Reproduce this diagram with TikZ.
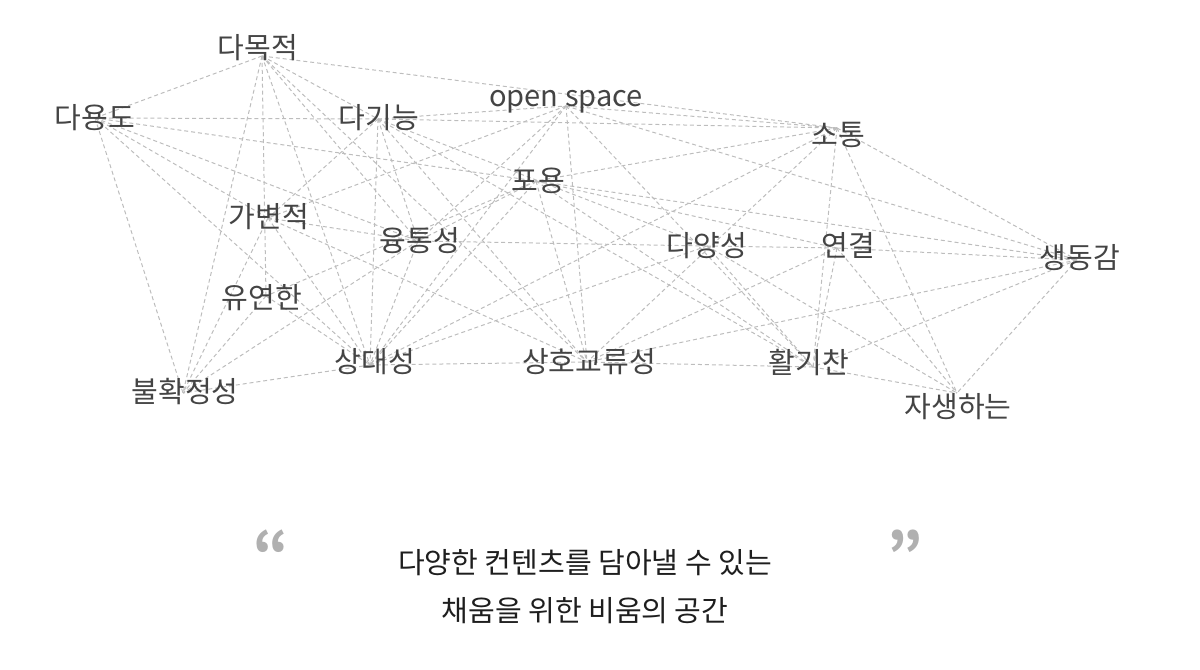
\documentclass[tikz,border=0pt]{standalone}
\usepackage{fontspec}
\setmainfont{Noto Sans CJK KR}
\definecolor{edgec}{HTML}{BDBDBD}
\definecolor{labc}{HTML}{444444}
\definecolor{capc}{HTML}{1E1E1E}
\definecolor{quotec}{HTML}{B0B0B0}
\begin{document}
\begin{tikzpicture}[x=0.75pt,y=-0.75pt,
  lbl/.style={font=\fontsize{21.8}{24}\selectfont, text=labc, inner sep=0pt},
  link/.style={draw=edgec, line width=0.75pt, dash pattern=on 3pt off 2.2pt},
  captext/.style={font=\fontsize{21.8}{26}\selectfont, text=capc, inner sep=0pt},
  qmark/.style={font=\bfseries\fontsize{42}{42}\selectfont, text=quotec, inner sep=0pt}]
\useasboundingbox (0,0) rectangle (1200,670);
% hub points
\coordinate (A) at (262,56);
\coordinate (B) at (95,118);
\coordinate (C) at (378,119);
\coordinate (D) at (566,106);
\coordinate (E) at (837,128);
\coordinate (F) at (536,181);
\coordinate (G) at (268,218);
\coordinate (H) at (418,241);
\coordinate (I) at (707,246);
\coordinate (J) at (837,248);
\coordinate (K) at (1077,260);
\coordinate (L) at (266,296);
\coordinate (M) at (370,365);
\coordinate (N) at (587,362);
\coordinate (O) at (813,367);
\coordinate (P) at (183,393);
\coordinate (Q) at (957,393);
% connectors
\foreach \a/\b in {A/B, A/E, A/C, A/P, A/L, A/M, A/H, A/N,
  B/C, B/F, B/H, B/M, B/P, B/G,
  C/D, C/E, C/M, C/H, C/N, C/I, C/G, C/O,
  D/E, D/K, D/N, D/H, D/G, D/M, D/O,
  E/F, E/M, E/N, E/O, E/Q, E/K,
  F/K, F/J, F/N, F/H, F/M, F/O, F/L,
  G/H, G/P, G/M, G/N,
  H/I, H/M, H/P,
  I/J, I/M, I/O, I/Q,
  J/K, J/N, J/O, J/Q,
  K/N, K/O, K/Q,
  L/P, L/M,
  M/P, M/N,
  N/O,
  O/Q}
  \draw[link] (\a) -- (\b);
% labels
\node[lbl] (tA) at (258,48) {다목적};
\node[lbl] (tB) at (95,118) {다용도};
\node[lbl] (tC) at (379,118) {다기능};
\node[lbl] (tD) at (566,102) {open space};
\node[lbl] (tE) at (838,135) {소통};
\node[lbl] (tF) at (538,181) {포용};
\node[lbl] (tG) at (269,217) {가변적};
\node[lbl] (tH) at (420,241) {융통성};
\node[lbl] (tI) at (707,246) {다양성};
\node[lbl] (tJ) at (848,245) {연결};
\node[lbl] (tK) at (1080,258) {생동감};
\node[lbl] (tL) at (262,298) {유연한};
\node[lbl] (tM) at (375,362) {상대성};
\node[lbl] (tN) at (589,362) {상호교류성};
\node[lbl] (tO) at (809,362) {활기찬};
\node[lbl] (tP) at (185,392) {불확정성};
\node[lbl] (tQ) at (958,407) {자생하는};
% caption
\node[qmark] (q1) at (271,552) {“};
\node[qmark] (q2) at (905,552) {”};
\node[captext] (c1) at (585,563) {다양한 컨텐츠를 담아낼 수 있는};
\node[captext] (c2) at (585,611) {채움을 위한 비움의 공간};
\end{tikzpicture}
\end{document}
